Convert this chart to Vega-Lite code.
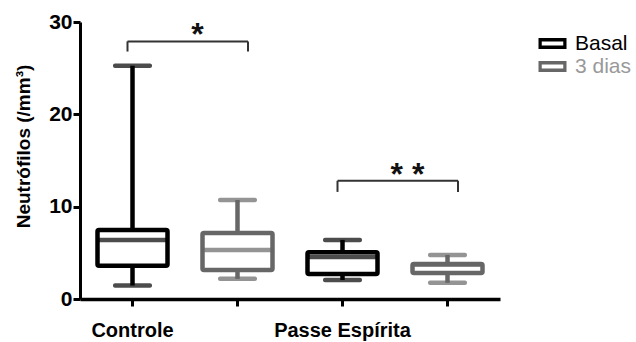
{
  "$schema": "https://vega.github.io/schema/vega-lite/v6.json",
  "autosize": "none",
  "width": 420,
  "height": 277,
  "padding": {"left": 80, "top": 22, "right": 136, "bottom": 43},
  "background": "white",
  "config": {
    "view": {"stroke": null},
    "font": "Liberation Sans"
  },
  "datasets": {
    "caixas": [
      {"categoria": "Controle|Basal", "grupo": "Controle", "tempo": "Basal", "min": 1.46, "q1": 3.6, "mediana": 6.39, "q3": 7.48, "max": 25.25},
      {"categoria": "Controle|3 dias", "grupo": "Controle", "tempo": "3 dias", "min": 2.18, "q1": 3.15, "mediana": 5.3, "q3": 7.15, "max": 10.72},
      {"categoria": "Passe Espírita|Basal", "grupo": "Passe Espírita", "tempo": "Basal", "min": 2.06, "q1": 2.72, "mediana": 4.55, "q3": 5.07, "max": 6.4},
      {"categoria": "Passe Espírita|3 dias", "grupo": "Passe Espírita", "tempo": "3 dias", "min": 1.75, "q1": 2.82, "mediana": 3.72, "q3": 3.78, "max": 4.77}
    ],
    "significancia": [
      {"de": "Controle|Basal", "ate": "Controle|3 dias", "topo": 27.9, "base": 26.8, "sig": "*"},
      {"de": "Passe Espírita|Basal", "ate": "Passe Espírita|3 dias", "topo": 12.8, "base": 11.6, "sig": "* *"}
    ]
  },
  "layer": [
    {
      "data": {"name": "caixas"},
      "mark": {"type": "bar", "fill": "white", "width": 70, "strokeWidth": 4.5, "cornerRadius": 1.5},
      "encoding": {
        "x": {
          "field": "categoria", "type": "nominal", "title": null,
          "scale": {"type": "band", "paddingInner": 0, "paddingOuter": 0,
            "domain": ["Controle|Basal", "Controle|3 dias", "Passe Espírita|Basal", "Passe Espírita|3 dias"]},
          "axis": {
            "labelExpr": "datum.value == 'Controle|Basal' ? 'Controle' : (datum.value == 'Passe Espírita|Basal' ? 'Passe Espírita' : '')",
            "labelAngle": 0, "labelFontSize": 20, "labelFontWeight": "bold", "labelColor": "black",
            "labelPadding": 14, "domainColor": "black", "domainWidth": 3.5, "tickColor": "black",
            "tickWidth": 3, "tickSize": 7, "grid": false, "labelOverlap": false
          }
        },
        "y": {
          "field": "q1", "type": "quantitative", "title": "Neutrófilos (/mm³)",
          "scale": {"domain": [0, 30], "nice": false},
          "axis": {
            "values": [0, 10, 20, 30], "grid": false, "labelFontSize": 21, "labelFontWeight": "bold",
            "labelColor": "black", "labelPadding": 1, "domainColor": "black", "domainWidth": 3,
            "tickColor": "black", "tickWidth": 3, "tickSize": 7,
            "titleFontSize": 19, "titleFontWeight": "bold", "titleColor": "black",
            "titleAngle": -90, "titleAlign": "center", "titleBaseline": "alphabetic",
            "titleX": -51, "titleY": 124
          }
        },
        "y2": {"field": "q3"},
        "stroke": {
          "field": "tempo", "type": "nominal",
          "scale": {"domain": ["Basal", "3 dias"], "range": ["#000000", "#676767"]},
          "legend": {
            "title": null, "orient": "none", "legendX": 460, "legendY": 9, "padding": 0,
            "symbolType": "M-1.12,-0.44H1.12V0.44H-1.12ZM-0.86,-0.16V0.16H0.86V-0.16Z",
            "symbolSize": 625, "symbolStrokeWidth": 0,
            "labelColor": {"expr": "datum.value === 'Basal' ? '#000000' : '#999999'"},
            "labelFontSize": 21, "labelOffset": 10, "rowPadding": 0,
            "labelFont": "Liberation Sans"
          }
        }
      }
    },
    {
      "data": {"name": "caixas"},
      "mark": {"type": "rule", "strokeWidth": 4.5},
      "encoding": {
        "x": {"field": "categoria", "type": "nominal", "title": null},
        "y": {"field": "min", "type": "quantitative"},
        "y2": {"field": "q1"},
        "color": {"field": "tempo", "type": "nominal", "legend": null,
          "scale": {"domain": ["Basal", "3 dias"], "range": ["#000000", "#676767"]}}
      }
    },
    {
      "data": {"name": "caixas"},
      "mark": {"type": "rule", "strokeWidth": 4.5},
      "encoding": {
        "x": {"field": "categoria", "type": "nominal", "title": null},
        "y": {"field": "q3", "type": "quantitative"},
        "y2": {"field": "max"},
        "color": {"field": "tempo", "type": "nominal", "legend": null}
      }
    },
    {
      "data": {"name": "caixas"},
      "mark": {"type": "tick", "size": 72, "thickness": 4.5},
      "encoding": {
        "x": {"field": "categoria", "type": "nominal", "title": null},
        "y": {"field": "mediana", "type": "quantitative"},
        "color": {"field": "tempo", "type": "nominal", "legend": null}
      }
    },
    {
      "data": {"name": "caixas"},
      "mark": {"type": "tick", "size": 39, "thickness": 4.5, "cornerRadius": 2},
      "encoding": {
        "x": {"field": "categoria", "type": "nominal", "title": null},
        "y": {"field": "min", "type": "quantitative"},
        "color": {"field": "tempo", "type": "nominal", "legend": null}
      }
    },
    {
      "data": {"name": "caixas"},
      "mark": {"type": "tick", "size": 39, "thickness": 4.5, "cornerRadius": 2},
      "encoding": {
        "x": {"field": "categoria", "type": "nominal", "title": null},
        "y": {"field": "max", "type": "quantitative"},
        "color": {"field": "tempo", "type": "nominal", "legend": null}
      }
    },
    {
      "data": {"name": "significancia"},
      "mark": {"type": "rule", "strokeWidth": 2, "color": "#333333", "xOffset": -5, "x2Offset": 10.5},
      "encoding": {
        "x": {"field": "de", "type": "nominal", "title": null},
        "x2": {"field": "ate"},
        "y": {"field": "topo", "type": "quantitative"}
      }
    },
    {
      "data": {"name": "significancia"},
      "mark": {"type": "rule", "strokeWidth": 2, "color": "#333333", "xOffset": -5},
      "encoding": {
        "x": {"field": "de", "type": "nominal", "title": null},
        "y": {"field": "topo", "type": "quantitative"},
        "y2": {"field": "base"}
      }
    },
    {
      "data": {"name": "significancia"},
      "mark": {"type": "rule", "strokeWidth": 2, "color": "#333333", "xOffset": 10.5},
      "encoding": {
        "x": {"field": "ate", "type": "nominal", "title": null},
        "y": {"field": "topo", "type": "quantitative"},
        "y2": {"field": "base"}
      }
    },
    {
      "data": {"name": "significancia"},
      "mark": {"type": "text", "fontSize": 32, "fontWeight": "bold", "color": "#111111", "xOffset": -40, "dy": 4, "align": "center", "baseline": "alphabetic"},
      "encoding": {
        "x": {"field": "ate", "type": "nominal", "title": null},
        "y": {"field": "topo", "type": "quantitative"},
        "text": {"field": "sig"}
      }
    }
  ]
}
